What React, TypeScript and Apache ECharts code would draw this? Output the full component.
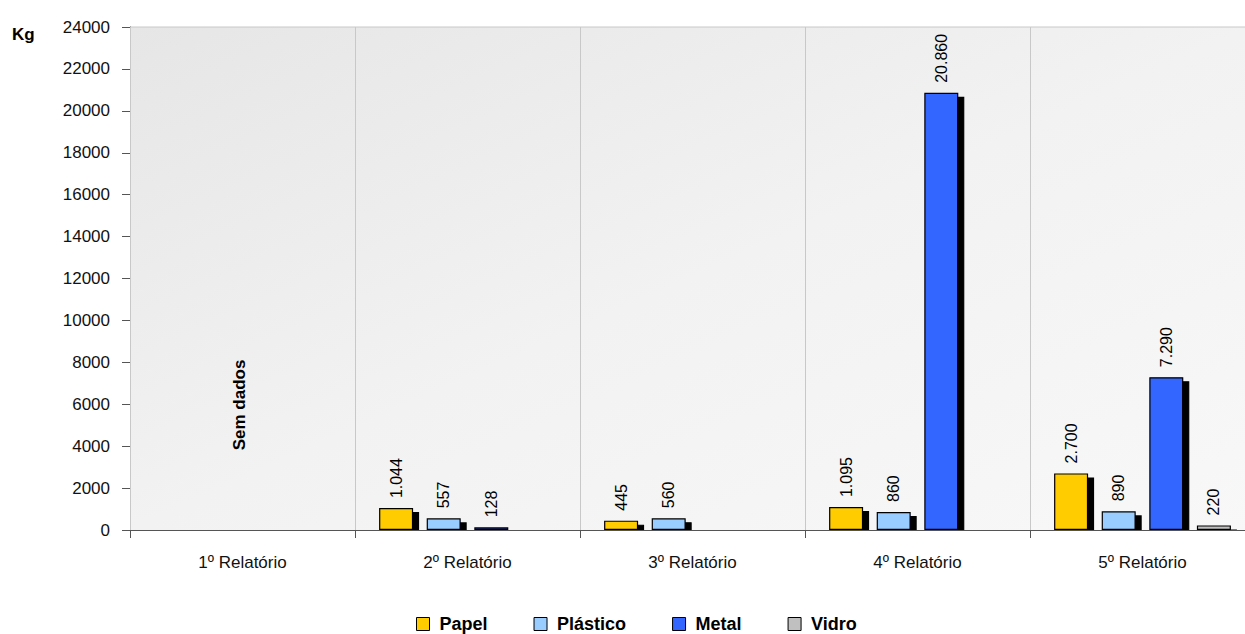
import React, { useEffect, useRef } from "react";
import * as echarts from "echarts";

const categories = ["1º Relatório", "2º Relatório", "3º Relatório", "4º Relatório", "5º Relatório"];
const papel = [null, 1044, 445, 1095, 2700];
const plastico = [null, 557, 560, 860, 890];
const metal = [null, 128, null, 20860, 7290];
const vidro = [null, null, null, null, 220];
const seriesNames = ["Papel", "Plástico", "Metal", "Vidro"];
const seriesColors = ["#FFCC00", "#99CCFF", "#3366FF", "#C0C0C0"];
const yTicks = { min: 0, max: 24000, interval: 2000 };

const FONT = "Liberation Sans, Arial, sans-serif";

function fmt(v: number): string {
  return String(v).replace(/\B(?=(\d{3})+(?!\d))/g, ".");
}

export default function App() {
  const ref = useRef<HTMLDivElement>(null);
  useEffect(() => {
    if (!ref.current) return;
    const chart = echarts.init(ref.current, undefined, { renderer: "svg" });
    const data = [papel, plastico, metal, vidro];
    chart.setOption({
      animation: false,
      grid: {
        left: 130,
        top: 27,
        width: 1125,
        bottom: 104,
        show: true,
        borderWidth: 0,
        backgroundColor: new echarts.graphic.LinearGradient(0, 0, 1, 1, [
          { offset: 0, color: "#e6e6e6" },
          { offset: 0.5, color: "#f2f2f2" },
          { offset: 1, color: "#f8f8f8" },
        ]),
      },
      xAxis: {
        type: "category",
        data: categories,
        z: 10,
        axisLine: { show: true, lineStyle: { color: "#555", width: 1 } },
        axisTick: { show: true, length: 8, lineStyle: { color: "#555" } },
        axisLabel: { color: "#111", fontFamily: FONT, fontSize: 17, margin: 24 },
        splitLine: { show: true, lineStyle: { color: "#c8c8c8", width: 1 } },
      },
      yAxis: {
        type: "value",
        min: yTicks.min,
        max: yTicks.max,
        interval: yTicks.interval,
        axisLine: { show: true, lineStyle: { color: "#555", width: 1 } },
        axisTick: { show: true, length: 8, inside: false, lineStyle: { color: "#555" } },
        axisLabel: {
          color: "#111",
          fontFamily: FONT,
          fontSize: 17,
          margin: 20,
          formatter: (v: number) => String(v),
        },
        splitLine: { show: false },
      },
      legend: {
        left: 416,
        top: 615,
        padding: 0,
        itemGap: 46,
        itemWidth: 13,
        itemHeight: 13,
        icon: "rect",
        textStyle: {
          fontFamily: FONT,
          fontSize: 18,
          lineHeight: 18,
          fontWeight: "bold",
          color: "#000",
          padding: [0, 0, 0, 5],
        },
        itemStyle: { shadowColor: "transparent", shadowOffsetX: 0, shadowOffsetY: 0, borderColor: "#000", borderWidth: 1 },
        data: seriesNames,
      },
      graphic: [
        {
          type: "text",
          left: 12,
          top: 26,
          style: { text: "Kg", font: `bold 17px ${FONT}`, fill: "#000" },
        },
        {
          type: "text",
          x: 239,
          y: 405,
          rotation: Math.PI / 2,
          style: {
            text: "Sem dados",
            font: `bold 17px ${FONT}`,
            fill: "#000",
            textAlign: "center",
            textVerticalAlign: "middle",
          },
        },
        {
          type: "line",
          shape: { x1: 130, y1: 27, x2: 1245, y2: 27 },
          style: { stroke: "#c8c8c8", lineWidth: 1 },
        },
        {
          type: "rect",
          z: 5,
          shape: { x: 131, y: 530.5, width: 1120, height: 6 },
          style: { fill: "#fff" },
        },
      ],
      series: seriesNames.map((name, i) => ({
        name,
        type: "bar",
        data: data[i],
        barWidth: 34,
        barGap: "40%",
        itemStyle: {
          color: seriesColors[i],
          borderColor: "#000",
          borderWidth: 1.2,
          shadowColor: "#000",
          shadowBlur: 0,
          shadowOffsetX: 6,
          shadowOffsetY: 4,
        },
        label: {
          show: true,
          position: "top",
          rotate: 90,
          align: "left",
          verticalAlign: "middle",
          distance: 10,
          fontFamily: FONT,
          fontSize: 16,
          color: "#000",
          formatter: (p: any) => (p.value == null ? "" : fmt(p.value)),
        },
      })),
    });
    return () => chart.dispose();
  }, []);
  return (
    <div style={{ position: "fixed", left: 0, top: 0, width: 1245, height: 634, overflow: "hidden", background: "#fff" }}>
      <div ref={ref} style={{ width: 1265, height: 634 }} />
    </div>
  );
}
